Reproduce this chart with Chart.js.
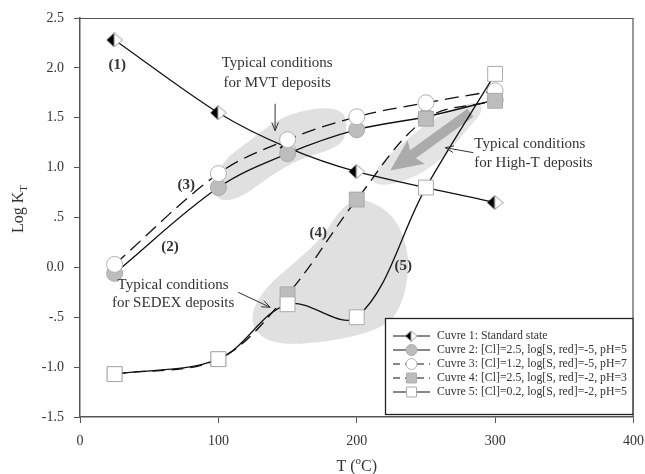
<!DOCTYPE html>
<html>
<head>
<meta charset="utf-8">
<script src="https://cdn.jsdelivr.net/npm/chart.js@4.4.0/dist/chart.umd.min.js"></script>
<style>
  html, body { margin: 0; padding: 0; background: #fff; }
  #wrap { width: 645px; height: 474px; }
</style>
</head>
<body>
<div id="wrap"><canvas id="chart" width="645" height="474"></canvas></div>
<script>
// values (T in degC, Log K)
const temps = [25, 100, 150, 200, 250, 300];
const curve1 = [2.28, 1.55, 1.20, 0.96, null, 0.65];
const curve2 = [-0.06, 0.80, 1.14, 1.38, 1.51, 1.68];
const curve3 = [0.03, 0.94, 1.28, 1.51, 1.65, 1.77];
const curve4 = [-1.07, -0.92, -0.27, 0.68, 1.49, 1.67];
const curve5 = [-1.07, -0.92, -0.37, -0.50, 0.80, 1.94];

const legendLabels = [
  "Cuvre 1: Standard state",
  "Cuvre 2: [Cl]=2.5, log[S, red]=-5, pH=5",
  "Cuvre 3: [Cl]=1.2, log[S, red]=-5, pH=7",
  "Cuvre 4: [Cl]=2.5, log[S, red]=-2, pH=3",
  "Cuvre 5: [Cl]=0.2, log[S, red]=-2, pH=5"
];
const yTicks = [2.5, 2.0, 1.5, 1.0, 0.5, 0.0, -0.5, -1.0, -1.5];
const yTickLabels = ["2.5", "2.0", "1.5", "1.0", ".5", "0.0", "-.5", "-1.0", "-1.5"];
const xTicks = [0, 100, 200, 300, 400];
const xTickLabels = ["0", "100", "200", "300", "400"];

// shaded "typical conditions" regions, outlined in data units [T, logK]
const mvtRegion = [[95.5,0.77],[102.7,1.07],[123,1.27],[144.7,1.51],[173.6,1.61],[191.7,1.57],
  [193.1,1.32],[184.4,1.19],[159.1,1.09],[137.4,0.92],[119.3,0.72],[102.7,0.65]];
const sedexRegion = [[195.3,0.66],[206.1,0.69],[227.8,0.52],[238.7,0.12],[234.4,-0.33],[222.1,-0.60],
  [180.8,-0.75],[137.4,-0.78],[121.5,-0.55],[131.6,-0.23],[157,0.07],[175,0.30],[186.6,0.55]];
const highTRegion = [[209.8,0.87],[215.6,1.02],[231.5,1.23],[251,1.45],[271.2,1.60],[287.9,1.67],
  [291.5,1.57],[282.1,1.42],[265.5,1.14],[248.1,0.95],[231.5,0.85],[217,0.82]];
const trendArrow = [[282.1, 1.55], [224.2, 0.97]];

const SERIF = "'Liberation Serif', 'Times New Roman', serif";
const TEXT = "#333";

function toXY(vals) {
  const out = [];
  vals.forEach((v, i) => { if (v !== null) out.push({ x: temps[i], y: v }); });
  return out;
}

function makeHalfDiamond(w, h) {
  const c = document.createElement("canvas");
  c.width = w; c.height = h;
  const g = c.getContext("2d");
  const mx = Math.round(w * 0.45);
  g.beginPath(); g.moveTo(0.5, h / 2); g.lineTo(mx, 0.5); g.lineTo(mx, h - 0.5); g.closePath();
  g.fillStyle = "#000"; g.fill();
  g.beginPath(); g.moveTo(mx, 0.5); g.lineTo(w - 0.5, h / 2); g.lineTo(mx, h - 0.5); g.closePath();
  g.fillStyle = "#fff"; g.fill();
  g.strokeStyle = "#999"; g.lineWidth = 1; g.stroke();
  return c;
}
const diamondBig = makeHalfDiamond(17, 15);
const diamondSmall = makeHalfDiamond(13, 11);

const datasets = [
  { label: legendLabels[0], data: toXY(curve1), borderColor: "#111", borderWidth: 1.2,
    pointStyle: diamondBig, pointRadius: 8, tension: 0.3, order: 5, spanGaps: true,
    legendStyle: diamondSmall },
  { label: legendLabels[1], data: toXY(curve2), borderColor: "#111", borderWidth: 1.3,
    pointStyle: "circle", pointRadius: 8, pointBackgroundColor: "#bdbdbd", pointBorderColor: "#aaa",
    pointBorderWidth: 1, tension: 0.35, order: 4 },
  { label: legendLabels[2], data: toXY(curve3), borderColor: "#111", borderWidth: 1.3, borderDash: [14, 7],
    pointStyle: "circle", pointRadius: 8, pointBackgroundColor: "#fff", pointBorderColor: "#b0b0b0",
    pointBorderWidth: 1, tension: 0.35, order: 3 },
  { label: legendLabels[3], data: toXY(curve4), borderColor: "#111", borderWidth: 1.3, borderDash: [12, 7],
    pointStyle: "rect", pointRadius: 10.5, pointBackgroundColor: "#bdbdbd", pointBorderColor: "#aaa",
    pointBorderWidth: 1, tension: 0.35, order: 2 },
  { label: legendLabels[4], data: toXY(curve5), borderColor: "#111", borderWidth: 1.3,
    pointStyle: "rect", pointRadius: 10.5, pointBackgroundColor: "#fff", pointBorderColor: "#aaa",
    pointBorderWidth: 1, tension: 0.35, order: 1 }
];

function px(chart, p) {
  return [chart.scales.x.getPixelForValue(p[0]), chart.scales.y.getPixelForValue(p[1])];
}

function smoothBlob(ctx, pts) {
  const n = pts.length;
  ctx.beginPath();
  const m0 = [(pts[n - 1][0] + pts[0][0]) / 2, (pts[n - 1][1] + pts[0][1]) / 2];
  ctx.moveTo(m0[0], m0[1]);
  for (let i = 0; i < n; i++) {
    const p = pts[i], q = pts[(i + 1) % n];
    ctx.quadraticCurveTo(p[0], p[1], (p[0] + q[0]) / 2, (p[1] + q[1]) / 2);
  }
  ctx.closePath();
}

function thinArrow(ctx, a, b) {
  const ang = Math.atan2(b[1] - a[1], b[0] - a[0]);
  ctx.beginPath();
  ctx.moveTo(a[0], a[1]); ctx.lineTo(b[0], b[1]);
  ctx.moveTo(b[0] - 9 * Math.cos(ang - 0.38), b[1] - 9 * Math.sin(ang - 0.38));
  ctx.lineTo(b[0], b[1]);
  ctx.lineTo(b[0] - 9 * Math.cos(ang + 0.38), b[1] - 9 * Math.sin(ang + 0.38));
  ctx.stroke();
}

const backdrop = {
  id: "backdrop",
  beforeDraw(chart) {
    const ctx = chart.ctx;
    ctx.save();
    ctx.fillStyle = "#fff";
    ctx.fillRect(0, 0, chart.width, chart.height);
    ctx.restore();
  },
  beforeDatasetsDraw(chart) {
    const ctx = chart.ctx;
    ctx.save();
    ctx.fillStyle = "#e0e0e0";
    [mvtRegion, sedexRegion].forEach((r) => {
      smoothBlob(ctx, r.map((p) => px(chart, p)));
      ctx.fill();
    });
    ctx.fillStyle = "#e4e4e4";
    smoothBlob(ctx, highTRegion.map((p) => px(chart, p)));
    ctx.fill();

    // big grey arrow
    const a = px(chart, trendArrow[0]), b = px(chart, trendArrow[1]);
    const ang = Math.atan2(b[1] - a[1], b[0] - a[0]);
    const len = Math.hypot(b[0] - a[0], b[1] - a[1]);
    ctx.translate(a[0], a[1]);
    ctx.rotate(ang);
    ctx.fillStyle = "#ababab";
    ctx.beginPath();
    ctx.moveTo(0, -5);
    ctx.lineTo(len - 28, -5);
    ctx.lineTo(len - 32, -14.5);
    ctx.lineTo(len, 0);
    ctx.lineTo(len - 32, 14.5);
    ctx.lineTo(len - 28, 5);
    ctx.lineTo(0, 5);
    ctx.closePath();
    ctx.fill();
    ctx.restore();
  },
  afterDraw(chart) {
    const ctx = chart.ctx;
    const area = chart.chartArea;
    ctx.save();

    // frame top and right
    ctx.strokeStyle = "#555";
    ctx.lineWidth = 1.2;
    ctx.beginPath();
    ctx.moveTo(area.left, area.top + 0.5);
    ctx.lineTo(area.right - 0.5, area.top + 0.5);
    ctx.lineTo(area.right - 0.5, area.bottom);
    ctx.stroke();

    // annotations
    ctx.fillStyle = TEXT;
    ctx.textAlign = "center";
    ctx.textBaseline = "middle";
    ctx.font = "bold 15px " + SERIF;
    [["(1)", 27, 2.03], ["(2)", 65, 0.20], ["(3)", 76.7, 0.82], ["(4)", 172.2, 0.34], ["(5)", 233.6, 0.01]]
      .forEach((l) => { const p = px(chart, [l[1], l[2]]); ctx.fillText(l[0], p[0], p[1]); });

    ctx.font = "15px " + SERIF;
    let p = px(chart, [142.5, 2.045]);
    ctx.fillText("Typical conditions", p[0], p[1]);
    p = px(chart, [142.5, 1.845]);
    ctx.fillText("for MVT deposits", p[0], p[1]);
    p = px(chart, [67.3, -0.18]);
    ctx.fillText("Typical conditions", p[0], p[1]);
    p = px(chart, [67.3, -0.36]);
    ctx.fillText("for SEDEX deposits", p[0], p[1]);
    ctx.textAlign = "left";
    p = px(chart, [285, 1.24]);
    ctx.fillText("Typical conditions", p[0], p[1]);
    p = px(chart, [285, 1.05]);
    ctx.fillText("for High-T deposits", p[0], p[1]);

    ctx.strokeStyle = "#333";
    ctx.lineWidth = 1;
    thinArrow(ctx, px(chart, [141, 1.64]), px(chart, [141, 1.37]));
    thinArrow(ctx, px(chart, [284.3, 1.15]), px(chart, [264, 1.20]));
    thinArrow(ctx, px(chart, [114.3, -0.25]), px(chart, [137.4, -0.40]));

    // axis titles
    ctx.fillStyle = TEXT;
    ctx.textBaseline = "alphabetic";
    ctx.font = "16px " + SERIF;
    const xt = "T (", xc = "C)";
    const w1 = ctx.measureText(xt).width, w3 = ctx.measureText(xc).width;
    ctx.font = "11px " + SERIF;
    const w2 = ctx.measureText("o").width;
    let x0 = (area.left + area.right) / 2 - (w1 + w2 + w3) / 2;
    const yb = 471;
    ctx.font = "16px " + SERIF;
    ctx.fillText(xt, x0, yb);
    ctx.font = "11px " + SERIF;
    ctx.fillText("o", x0 + w1, yb - 7);
    ctx.font = "16px " + SERIF;
    ctx.fillText(xc, x0 + w1 + w2, yb);

    ctx.translate(23, 209);
    ctx.rotate(-Math.PI / 2);
    const lk = "Log K";
    const wl = ctx.measureText(lk).width;
    ctx.font = "11px " + SERIF;
    const ws = ctx.measureText("T").width;
    ctx.font = "16px " + SERIF;
    const sx = -(wl + ws) / 2;
    ctx.fillText(lk, sx, 0);
    ctx.font = "11px " + SERIF;
    ctx.fillText("T", sx + wl, 4);
    ctx.restore();

    // legend box
    ctx.save();
    const lx = 385, ly = 318, lw = area.right - lx, lh = 97;
    ctx.fillStyle = "#fff";
    ctx.fillRect(lx, ly, lw, lh);
    ctx.strokeStyle = "#222";
    ctx.lineWidth = 1.3;
    ctx.strokeRect(lx + 0.5, ly + 0.5, lw - 1, lh - 1);
    chart.data.datasets.forEach((ds, i) => {
      const y = 336 + i * 14;
      ctx.strokeStyle = ds.borderColor;
      ctx.lineWidth = 1.2;
      ctx.setLineDash(ds.borderDash ? [7, 5] : []);
      ctx.beginPath();
      ctx.moveTo(393, y); ctx.lineTo(430, y);
      ctx.stroke();
      ctx.setLineDash([]);
      ctx.fillStyle = ds.pointBackgroundColor || "#fff";
      ctx.strokeStyle = ds.pointBorderColor || "#999";
      ctx.lineWidth = 1;
      const style = ds.legendStyle || ds.pointStyle;
      const r = ds.pointStyle === "rect" ? 7 : 5.5;
      Chart.helpers.drawPoint(ctx, { pointStyle: style, rotation: 0, radius: r, borderWidth: 1 }, 411.5, y);
      ctx.fillStyle = TEXT;
      ctx.font = "11.8px " + SERIF;
      ctx.textAlign = "left";
      ctx.textBaseline = "middle";
      ctx.fillText(ds.label, 437, y);
    });
    ctx.restore();
  }
};

new Chart(document.getElementById("chart"), {
  type: "line",
  data: { datasets: datasets },
  plugins: [backdrop],
  options: {
    responsive: false,
    animation: false,
    layout: { padding: { top: 18, right: 11, left: 0, bottom: 0 } },
    plugins: { legend: { display: false }, tooltip: { enabled: false } },
    scales: {
      x: {
        type: "linear", min: 0, max: 400,
        afterFit: (s) => { s.height = 57; s.paddingLeft = 0; s.paddingRight = 0; },
        afterBuildTicks: (s) => { s.ticks = xTicks.map((v) => ({ value: v })); },
        ticks: {
          color: TEXT, padding: 10, font: { family: SERIF, size: 14 },
          callback: (v) => xTickLabels[xTicks.indexOf(v)]
        },
        grid: { drawOnChartArea: false, tickLength: 6, color: "#555", lineWidth: 1 },
        border: { color: "#555", width: 1.5 }
      },
      y: {
        type: "linear", min: -1.5, max: 2.5,
        afterFit: (s) => { s.width = 80; s.paddingTop = 0; s.paddingBottom = 0; },
        afterBuildTicks: (s) => { s.ticks = yTicks.map((v) => ({ value: v })); },
        ticks: {
          color: TEXT, padding: 10, font: { family: SERIF, size: 14 },
          callback: (v) => yTickLabels[yTicks.indexOf(v)]
        },
        grid: { drawOnChartArea: false, tickLength: 6, color: "#555", lineWidth: 1 },
        border: { color: "#555", width: 1.5 }
      }
    }
  }
});
</script>
</body>
</html>
